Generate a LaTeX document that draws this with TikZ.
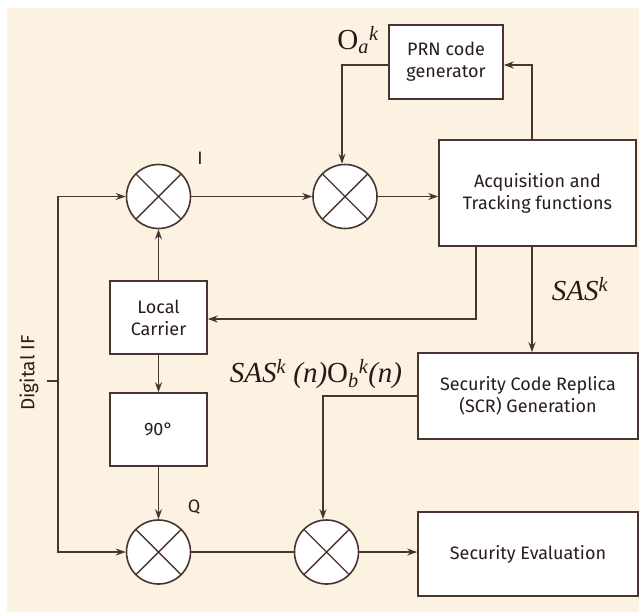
\documentclass[tikz,border=0pt]{standalone}
\usepackage[no-math]{fontspec}
\setmainfont{Fira Sans}
\newfontfamily\lblfont{Liberation Serif}
\usetikzlibrary{arrows.meta}
\definecolor{paper}{HTML}{FBF2E2}
\definecolor{ink}{HTML}{4A3430}
\tikzset{
  wire/.style={draw=ink, line width=1.6pt},
  arr/.style={-{Stealth[length=10pt,width=7pt]}},
  mixer/.style={circle, draw=ink, fill=white, line width=1.6pt,
    minimum size=64pt, inner sep=0pt,
    path picture={\draw[ink, line width=1.4pt]
      (path picture bounding box.north west) -- (path picture bounding box.south east)
      (path picture bounding box.north east) -- (path picture bounding box.south west);}},
  blockbox/.style={draw=ink, fill=white, line width=1.6pt, align=center,
    inner sep=0pt, text=ink!55!black, font=\fontsize{18}{22}\selectfont},
  seriflbl/.style={text=ink!50!black, font=\lblfont\fontsize{29}{32}\selectfont, inner sep=0pt},
  smalllbl/.style={text=ink!55!black, font=\fontsize{18}{20}\selectfont, inner sep=0pt}
}
\begin{document}
\begin{tikzpicture}[x=1pt,y=-1pt]
\useasboundingbox (0,0) rectangle (639,614);
\fill[paper] (7,8) rectangle (639,612);

% mixers
\node[mixer] (mI) at (158.5,196.5) {};
\node[mixer] (mA) at (345,196.5) {};
\node[mixer] (mQ) at (158.5,552) {};
\node[mixer] (mB) at (326.5,552) {};

% blocks
\node[blockbox, minimum width=114pt, minimum height=74pt] (prn) at (446,62) {PRN code\\generator};
\node[blockbox, minimum width=197pt, minimum height=106pt] (acq) at (537.5,193) {Acquisition and\\Tracking functions};
\node[blockbox, minimum width=97pt, minimum height=73pt] (lc) at (158.5,317.5) {Local\\Carrier};
\node[blockbox, minimum width=97pt, minimum height=73pt] (ph) at (158.5,429.5) {90°};
\node[blockbox, minimum width=220pt, minimum height=86pt] (scr) at (528,396) {Security Code Replica\\(SCR) Generation};
\node[blockbox, minimum width=220pt, minimum height=84pt] (sev) at (528,554) {Security Evaluation};

% signal labels
\node[seriflbl] (oa) at (358,40) {O\textsubscript{\itshape a}\textsuperscript{\itshape k}};
\node[seriflbl] (sas) at (580,289) {\itshape SAS\textsuperscript{k}};
\node[seriflbl] (sasob) at (316,374) {\itshape SAS\textsuperscript{k} (n)\upshape O\textsubscript{\itshape b}\textsuperscript{\itshape k}\itshape(n)};
\node[smalllbl] (li) at (200,158) {I};
\node[smalllbl] (lq) at (194,507) {Q};
\node[smalllbl, rotate=90, font=\fontsize{19}{20}\selectfont] (dif) at (29,373) {Digital IF};

% bend points
\coordinate (tick) at (47,381);
\coordinate (ifbus) at (58,381);
\coordinate (upx) at (532,65);
\coordinate (dnx) at (342,65);
\coordinate (lcx) at (476,319);
\coordinate (scx) at (323,396);

% connectors
\draw[wire] (tick) -- (ifbus);
\draw[wire,arr] (ifbus) |- (mI.west);
\draw[wire,arr] (ifbus) |- (mQ.west);
\draw[wire,arr] (mI) -- (mA);
\draw[wire,arr] (mA.east) -- (mA.east -| acq.west);
\draw[wire,arr] (upx |- acq.north) -- (upx) -- (upx -| prn.east);
\draw[wire,arr] (prn.west |- dnx) -- (dnx) -- (dnx |- mA.north);
\draw[wire,arr] (lcx |- acq.south) -- (lcx) -- (lcx -| lc.east);
\draw[wire,arr] (upx |- acq.south) -- (upx |- scr.north);
\draw[wire,arr] (lc) -- (mI);
\draw[wire,arr] (lc) -- (ph);
\draw[wire,arr] (ph) -- (mQ);
\draw[wire] (mQ) -- (mB);
\draw[wire,arr] (scr.west |- scx) -- (scx) -- (scx |- mB.north);
\draw[wire,arr] (mB.east) -- (mB.east -| sev.west);
\end{tikzpicture}
\end{document}
